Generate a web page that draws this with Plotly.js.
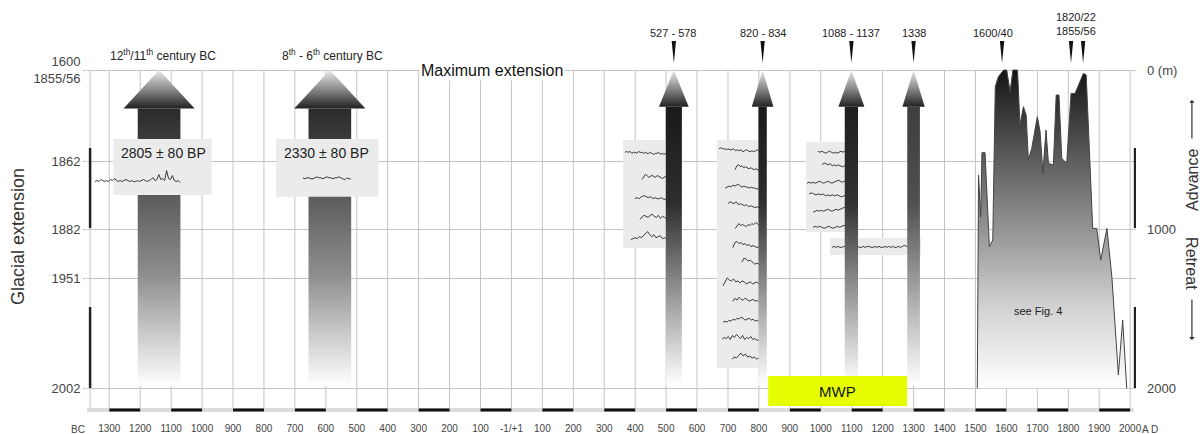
<!DOCTYPE html>
<html><head><meta charset="utf-8">
<script src="https://cdn.plot.ly/plotly-3.0.1.min.js"></script>
<style>html,body{margin:0;padding:0;background:#fff}#chart{width:1204px;height:434px}</style>
</head><body><div id="chart"></div>
<script>
// ================= DATA =================
const centuryYears = [-1300,-1200,-1100,-1000,-900,-800,-700,-600,-500,-400,-300,-200,-100,0,100,200,300,400,500,600,700,800,900,1000,1100,1200,1300,1400,1500,1600,1700,1800,1900,2000];
const centuryLabels = ['1300','1200','1100','1000','900','800','700','600','500','400','300','200','100','-1/+1','100','200','300','400','500','600','700','800','900','1000','1100','1200','1300','1400','1500','1600','1700','1800','1900','2000'];
const scaleBars = [[-1300,-1200],[-1100,-1000],[-900,-800],[-700,-600],[-500,-400],[-300,-200],[-100,0],[100,200],[300,400],[500,600],[700,800],[900,1000],[1100,1200],[1300,1400],[1500,1600],[1700,1800],[1900,2000]];

const leftTickVals = [0, 576, 1000, 1309, 2000];
const leftTickText = ['1600<br>1855/56', '1862', '1882', '1951', '2002'];
const rightTickVals = [0, 1000, 2000];
const rightTickText = ['0 (m)', '1000', '2000'];

// Bronze/Iron age advances
const bcArrowYears = [-1139, -587];
const bcCenturyLabels = ['12<sup>th</sup>/11<sup>th</sup> century BC', '8<sup>th</sup> - 6<sup>th</sup> century BC'];
const bcDates = ['2805 ± 80 BP', '2330 ± 80 BP'];

// AD advances
const adArrowYears = [525, 812, 1099, 1300];
const periodLabels = ['527 - 578', '820 - 834', '1088 - 1137', '1338', '1600/40', '1820/22<br>1855/56'];
const periodLabelYears = [523, 812, 1099, 1300, 1557, 1826];
const markerYears = [525, 812, 1099, 1300, 1586, 1809, 1848];

// Glacier length curve 1500-2000 (m of retreat from maximum)
const glacierYears  = [1506,1510,1517,1521,1531,1545,1556,1564,1574,1591,1601,1612,1621,1636,1644,1655,1664,1671,1682,1700,1709,1718,1728,1736,1752,1761,1770,1779,1795,1809,1822,1849,1858,1879,1892,1905,1925,1941,1962,1976,1989];
const glacierLength = [2000, 660, 922, 519, 519,1110,1068, 105,  42,   0,   0, 136,   0,   0, 346, 230, 283, 565, 492, 293, 388, 649, 377, 586, 597, 157, 157, 555, 586, 147, 147,  21,  31, 995, 995,1194, 995,1299,1916,1571,2000];

const mwpPeriod = [830, 1279];

// Tree-ring width series (relative values)
const ringsBC1 = [2,3,2,4,3,2,3,2,4,3,5,3,2,3,2,3,4,3,2,3,2,2,3,2,3,4,3,2,3,4,6,3,4,9,4,5,3,13,5,4,8,3,2,3,1];
const ringsBC2 = [3,2,3,3,2,2,3,4,3,3,2,3,4,3,3,2,3,3,4,3,2,1,3,2,2];

const rings527a = [5,6,5,6,4,5,5,4,6,5,5,4,5,4,4,5,4,3,4,4,5,3,4,3,4,3,2,3];
const rings527b = [2,5,7,6,4,5,6,5,4,6,5,4,3,4,5,3,4,2];
const rings527c = [3,4,3,5,6,5,4,5,3,4,3,3,4,2,3,2,3];
const rings527d = [2,4,6,5,4,6,7,5,4,6,3,5,4,2,3,2];
const rings527e = [1,2,3,2,4,3,5,7,9,6,4,6,3,4,5,2,3,2,1,2];

const rings820a = [6,7,6,6,5,6,5,5,6,4,5,4,5,3,4,5,4,3,4,3,4,5,3,4];
const rings820b = [3,7,8,6,7,5,6,5,4,5,4,3,4,3,2,3];
const rings820c = [3,4,5,4,6,5,6,7,5,4,5,4,4,3,4,3,3,2,3,2];
const rings820d = [6,8,7,6,8,5,6,5,4,5,3,4,3,2,3,2,3];
const rings820e = [1,3,6,4,5,4,3,5,4,6,5,7,6,4,5];
const rings820f = [2,7,8,6,7,5,6,4,5,3,4,3,2,3,2];
const rings820g = [5,9,8,6,7,5,3,4,3,2];
const rings820h = [1,5,9,7,6,8,5,6,4,6,5,3,4,5,3,4,5,3,4];
const rings820i = [3,6,4,7,5,4,6,5,3,4,5,3,4,2,3];
const rings820j = [2,3,2,4,3,5,4,6,5,7,6,4,5,6,4,5,3,4,2,3];
const rings820k = [4,6,5,7,4,8,6,9,7,5,8,4,6,5,7,4,5,3,4,2];
const rings820l = [2,4,3,6,8,5,7,4,5,3,4,2,3,1];

const rings1088a = [5,4,5,4,3,4,5,4,3,4,3,4,5,4,5,4,6];
const rings1088b = [4,6,5,4,5,3,4,3,4,3,2,3,4,3];
const rings1088c = [3,4,3,4,3,4,5,4,3,4,5,4,3,4,5,6,5,4,5,4,5];
const rings1088d = [5,6,5,4,5,4,5,3,4,3,4,3,4,3,2,3,4,3];
const rings1088e = [2,3,4,3,4,3,4,5,4,3,4,5,4,5,6,7,5,4];
const rings1088f = [3,4,3,4,3,2,3,4,3,2,3,4,3,4,5,4,3];
const ringsLong  = [3,4,3,4,3,3,4,3,4,3,3,2,3,4,3,3,4,3,4,4,3,3,4,3,4,3,3,4,3,4,3,4,3,3,4,3,4,5,4,4,3,4,3,2,3,3];

// ================= LAYOUT / STYLE =================
const FONT = 'Liberation Sans, Arial, Helvetica, sans-serif';
const NARROW = 'Liberation Sans Narrow, Arial Narrow, Liberation Sans, Arial, sans-serif';
const X0 = -1372, X1 = 2019, YTOP = -440, YBOT = 2155;
const GRID = '#c4c4c4';
const BOX = '#ebebeb';
const WIG = '#3a3a3a';
const RING_PX = 6.3; // metres per ring unit

const bigArrow = {headHalf: 115, shaftHalf: 69, headBase: 241, shaftEnd: 1985};
const smallArrows = [
  {headHalf: 48, shaftHalf: 26,   top: '#1a1a1a', mid: '#2e2e2e'},
  {headHalf: 35, shaftHalf: 13.5, top: '#1a1a1a', mid: '#2e2e2e'},
  {headHalf: 42, shaftHalf: 21.5, top: '#1e1e1e', mid: '#323232'},
  {headHalf: 36, shaftHalf: 20.5, top: '#3e3e3e', mid: '#505050'}
];
const smallHeadBase = 230, smallShaftEnd = 1980;

const bcBoxes = [[-1287, -969, 434, 785], [-761, -430, 434, 796]];
const adBoxes = [[361, 520, 440, 1118], [664, 812, 440, 1872], [953, 1095, 452, 1018], [1030, 1324, 1056, 1162]];

const wiggles = [
  {d: ringsBC1, x0: -1346, x1: -1071, y: 691},
  {d: ringsBC2, x0: -674, x1: -519, y: 679}
];
const wigglesAD = [
  {d: rings527a, x0: 367, x1: 515, y: 522},
  {d: rings527b, x0: 422, x1: 515, y: 672},
  {d: rings527c, x0: 399, x1: 515, y: 804},
  {d: rings527d, x0: 415, x1: 515, y: 924},
  {d: rings527e, x0: 386, x1: 515, y: 1049},
  {d: rings820a, x0: 671, x1: 807, y: 503},
  {d: rings820b, x0: 723, x1: 807, y: 616},
  {d: rings820c, x0: 691, x1: 807, y: 735},
  {d: rings820d, x0: 700, x1: 807, y: 848},
  {d: rings820e, x0: 723, x1: 807, y: 974},
  {d: rings820f, x0: 716, x1: 807, y: 1100},
  {d: rings820g, x0: 745, x1: 807, y: 1206},
  {d: rings820h, x0: 684, x1: 807, y: 1332},
  {d: rings820i, x0: 716, x1: 807, y: 1445},
  {d: rings820j, x0: 684, x1: 807, y: 1571},
  {d: rings820k, x0: 681, x1: 807, y: 1684},
  {d: rings820l, x0: 713, x1: 807, y: 1803},
  {d: rings1088a, x0: 991, x1: 1090, y: 515},
  {d: rings1088b, x0: 1004, x1: 1090, y: 597},
  {d: rings1088c, x0: 955, x1: 1090, y: 704},
  {d: rings1088d, x0: 962, x1: 1090, y: 785},
  {d: rings1088e, x0: 975, x1: 1090, y: 880},
  {d: rings1088f, x0: 975, x1: 1090, y: 986},
  {d: ringsLong,  x0: 1036, x1: 1321, y: 1112}
];

// ================= BUILD =================
function gradPoly(xs, ys, start, stop, cs, yaxis) {
  return {type: 'scatter', mode: 'lines', x: xs, y: ys, fill: 'toself',
    line: {width: 0, color: 'rgba(0,0,0,0)'},
    fillgradient: {type: 'vertical', start: start, stop: stop, colorscale: cs},
    hoverinfo: 'skip', showlegend: false, yaxis: yaxis || 'y'};
}
function solidPoly(xs, ys, color) {
  return {type: 'scatter', mode: 'lines', x: xs, y: ys, fill: 'toself', fillcolor: color,
    line: {width: 0, color: 'rgba(0,0,0,0)'}, hoverinfo: 'skip', showlegend: false};
}
function rect(b, color) {
  return solidPoly([b[0], b[1], b[1], b[0], b[0]], [b[2], b[2], b[3], b[3], b[2]], color);
}
function arrowTraces(xc, g, headBase, shaftEnd, headCS, shaftCS) {
  const head = gradPoly([xc, xc + g.headHalf, xc - g.headHalf, xc], [0, headBase, headBase, 0], 0, headBase, headCS);
  const shaft = gradPoly([xc - g.shaftHalf, xc + g.shaftHalf, xc + g.shaftHalf, xc - g.shaftHalf, xc - g.shaftHalf],
    [headBase, headBase, shaftEnd, shaftEnd, headBase], headBase, shaftEnd, shaftCS);
  return [shaft, head];
}
function wiggleTrace(w) {
  const n = w.d.length;
  const mean = w.d.reduce((a, b) => a + b, 0) / n;
  const xs = w.d.map((v, i) => w.x0 + i * (w.x1 - w.x0) / (n - 1));
  const ys = w.d.map(v => w.y - (v - mean) * RING_PX);
  return {type: 'scatter', mode: 'lines', x: xs, y: ys, line: {color: WIG, width: 1},
    hoverinfo: 'skip', showlegend: false};
}

const traces = [];
const headCS = [[0, '#ececec'], [0.5, '#8a8a8a'], [1, '#222222']];
const bigShaftCS = [[0, '#2a2a2a'], [0.3, '#595959'], [0.6, '#8e8e8e'], [1, '#ffffff']];

bcArrowYears.forEach(y => traces.push(...arrowTraces(y, bigArrow, bigArrow.headBase, bigArrow.shaftEnd, headCS, bigShaftCS)));
bcBoxes.forEach(b => traces.push(rect(b, BOX)));
wiggles.forEach(w => traces.push(wiggleTrace(w)));

adBoxes.forEach(b => traces.push(rect(b, BOX)));
wigglesAD.forEach(w => traces.push(wiggleTrace(w)));
adArrowYears.forEach((y, i) => {
  const g = smallArrows[i];
  traces.push(...arrowTraces(y, g, smallHeadBase, smallShaftEnd, headCS,
    [[0, g.top], [0.35, g.mid], [1, '#ffffff']]));
});

// glacier length curve (right axis, metres)
traces.push(Object.assign(
  gradPoly(glacierYears, glacierLength, 0, 2000,
    [[0, '#151515'], [0.3, '#626262'], [0.5, '#939393'], [0.75, '#d3d3d3'], [1, '#ffffff']], 'y2'),
  {line: {width: 1, color: '#444444'}}));

// dating markers (thin black triangles above the frame)
markerYears.forEach(y => traces.push(solidPoly([y - 7, y + 7, y, y - 7], [-182, -182, -44, -182], '#111111')));

// ---- shapes ----
const shapes = [];
centuryYears.concat([-1362]).forEach(y => shapes.push({type: 'line', xref: 'x', yref: 'y', x0: y, x1: y, y0: 0, y1: 2124,
  line: {color: GRID, width: 1}, layer: 'below'}));
shapes.push({type: 'line', xref: 'x', yref: 'y', x0: X0, x1: 2012, y0: 2136, y1: 2136, line: {color: '#dcdcdc', width: 4}, layer: 'below'});
scaleBars.forEach(b => shapes.push({type: 'line', xref: 'x', yref: 'y', x0: b[0], x1: b[1], y0: 2136, y1: 2136,
  line: {color: '#111', width: 3}, layer: 'below'}));
[[-1362, 490, 993], [-1362, 1489, 1998], [2016, 490, 993], [2016, 1489, 1998]].forEach(s =>
  shapes.push({type: 'line', xref: 'x', yref: 'y', x0: s[0], x1: s[0], y0: s[1], y1: s[2], line: {color: '#222', width: 2.5}, layer: 'above'}));
shapes.push({type: 'rect', xref: 'x', yref: 'y', x0: mwpPeriod[0], x1: mwpPeriod[1], y0: 1923, y1: 2111,
  fillcolor: '#e6ff00', line: {width: 0}, layer: 'above'});

// ---- annotations ----
const ann = [];
const txt = (x, y, text, size, extra) => Object.assign({xref: 'x', yref: 'y', x: x, y: y, text: text, showarrow: false,
  xanchor: 'center', yanchor: 'middle', font: {family: FONT, size: size, color: '#222'}}, extra || {});
ann.push(txt(-63, 0, 'Maximum extension', 16, {bgcolor: '#ffffff', borderpad: 1, font: {family: FONT, size: 16, color: '#111'}}));
ann.push(txt(-1126, -94, bcCenturyLabels[0], 12));
ann.push(txt(-579, -94, bcCenturyLabels[1], 12));
ann.push(txt(-1126, 522, bcDates[0], 14));
ann.push(txt(-597, 522, bcDates[1], 14));
periodLabels.forEach((t, i) => ann.push(txt(periodLabelYears[i], i === 5 ? -289 : -232, t, 11)));
ann.push(txt(1702, 1514, 'see Fig. 4', 11));
ann.push(txt((mwpPeriod[0] + mwpPeriod[1]) / 2, 2017, 'MWP', 15, {font: {family: FONT, size: 15, color: '#111'}}));
ann.push({xref: 'paper', yref: 'y', x: -0.0658, y: 1043, xanchor: 'center', yanchor: 'middle', text: 'Glacial extension',
  textangle: -90, showarrow: false, font: {family: FONT, size: 18, color: '#333'}});
ann.push({xref: 'paper', yref: 'y', x: 1.0533, y: 691, xanchor: 'center', yanchor: 'middle', text: 'Advance',
  textangle: -90, showarrow: false, font: {family: FONT, size: 16, color: '#333'}});
ann.push({xref: 'paper', yref: 'y', x: 1.0533, y: 1219, xanchor: 'center', yanchor: 'middle', text: 'Retreat',
  textangle: 90, showarrow: false, font: {family: FONT, size: 16, color: '#333'}});
ann.push({xref: 'paper', yref: 'y', x: 1.0533, y: 188, text: '', showarrow: true, ax: 0, ay: 40,
  arrowhead: 1, arrowsize: 0.8, arrowwidth: 1.2, arrowcolor: '#333'});
ann.push({xref: 'paper', yref: 'y', x: 1.0533, y: 1696, text: '', showarrow: true, ax: 0, ay: -42,
  arrowhead: 1, arrowsize: 0.8, arrowwidth: 1.2, arrowcolor: '#333'});
ann.push({xref: 'paper', yref: 'paper', x: -0.0086, y: -0.041, xanchor: 'center', yanchor: 'middle', text: 'BC', showarrow: false,
  font: {family: NARROW, size: 10, color: '#444'}});
ann.push({xref: 'paper', yref: 'paper', x: 1.0038, y: -0.041, xanchor: 'left', yanchor: 'middle', text: 'A D', showarrow: false,
  font: {family: NARROW, size: 10, color: '#444'}});

const layout = {
  width: 1204, height: 434, margin: {l: 87, r: 68, t: 0, b: 21, pad: 0},
  paper_bgcolor: '#ffffff', plot_bgcolor: '#ffffff', showlegend: false, hovermode: false,
  font: {family: FONT, color: '#333'},
  xaxis: {range: [X0, X1], tickvals: centuryYears, ticktext: centuryLabels, showgrid: false, zeroline: false,
    showline: false, ticks: '', tickangle: 0, tickfont: {family: NARROW, size: 10, color: '#444'}, ticklabelstandoff: 8, fixedrange: true},
  yaxis: {range: [YBOT, YTOP], tickvals: leftTickVals, ticktext: leftTickText, showgrid: true, gridcolor: GRID, gridwidth: 1,
    zeroline: false, showline: false, ticks: 'outside', ticklen: 3, tickcolor: GRID, tickfont: {family: FONT, size: 13, color: '#444'}, fixedrange: true},
  yaxis2: {overlaying: 'y', side: 'right', anchor: 'x', range: [YBOT, YTOP], tickvals: rightTickVals, ticktext: rightTickText,
    showgrid: false, zeroline: false, showline: false, ticks: '', tickfont: {family: FONT, size: 13, color: '#444'}, ticklabelstandoff: 10, fixedrange: true},
  shapes: shapes, annotations: ann
};

Plotly.newPlot('chart', traces, layout, {displayModeBar: false, staticPlot: true});
</script></body></html>
